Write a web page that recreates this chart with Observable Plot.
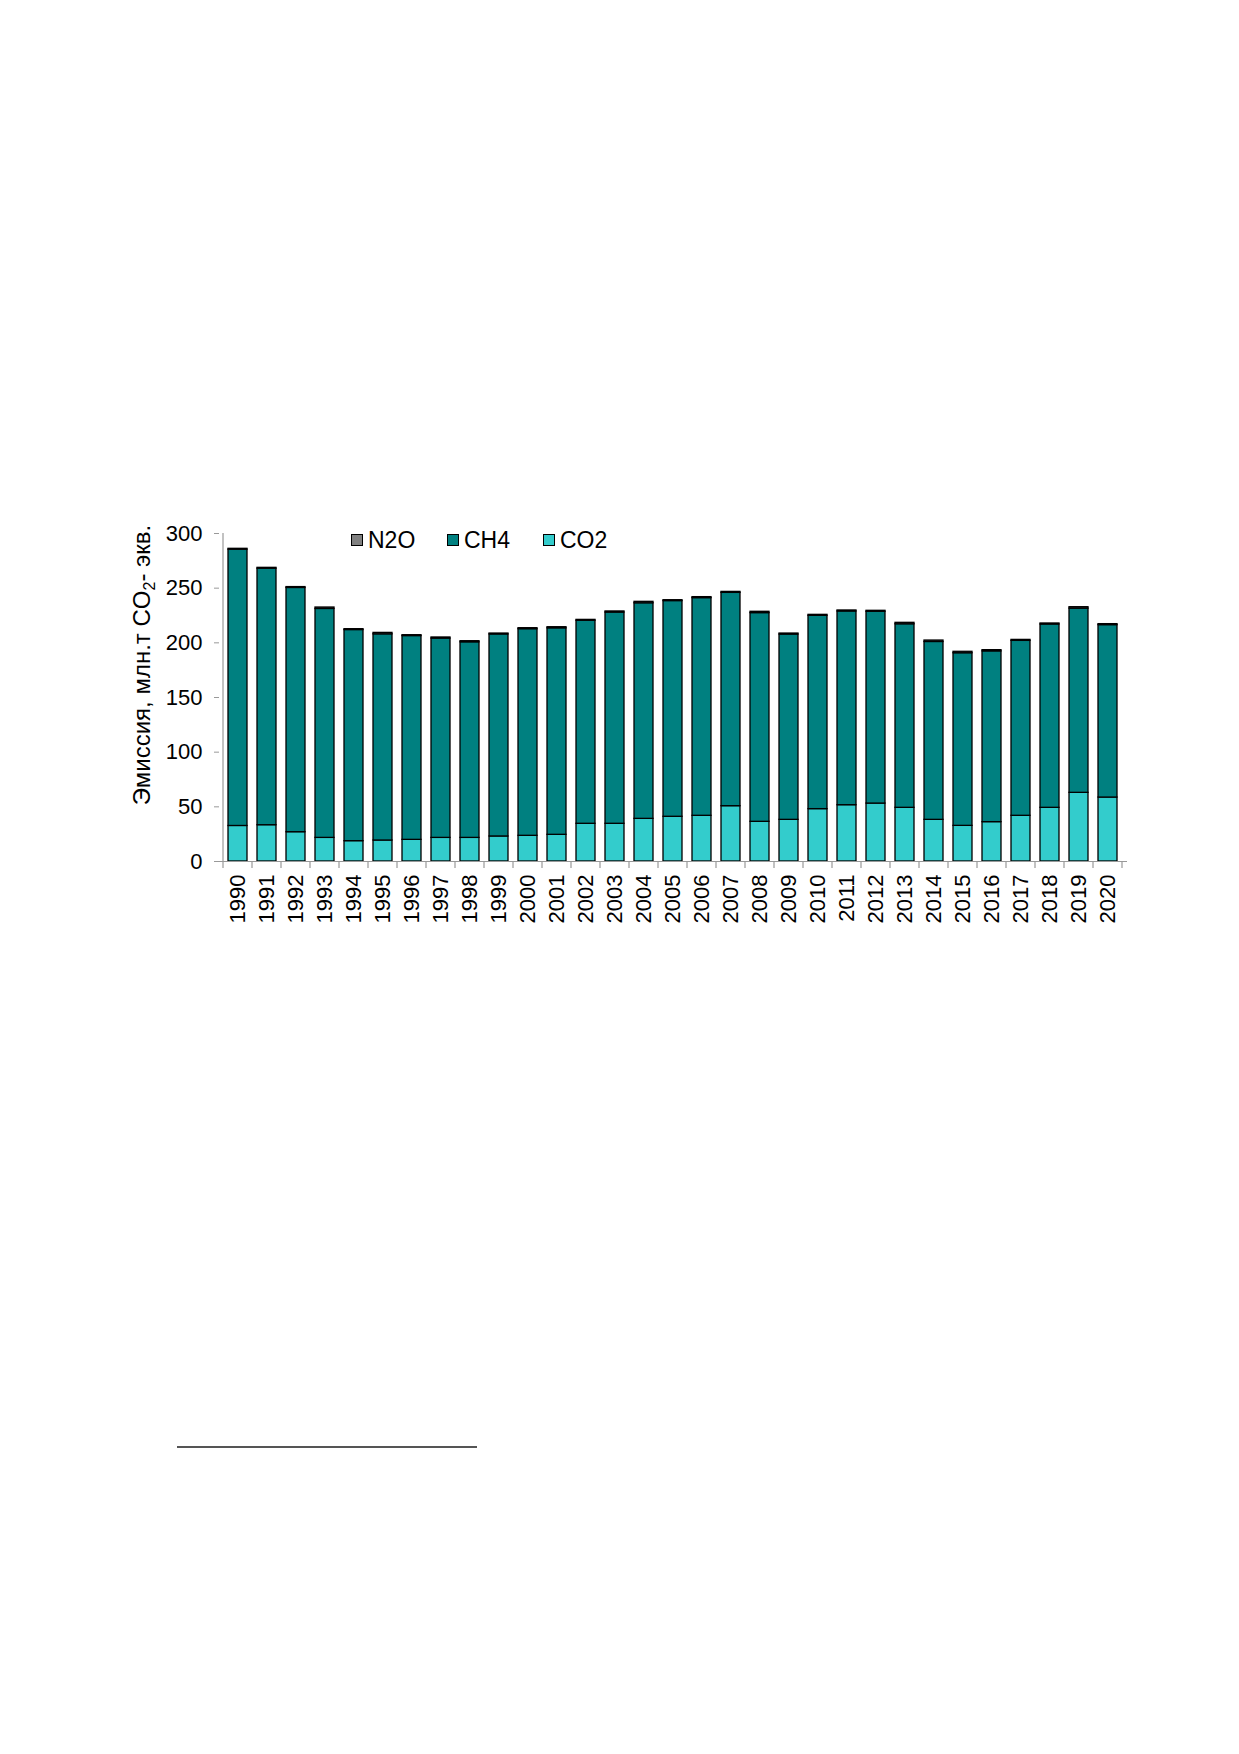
<!DOCTYPE html>
<html>
<head>
<meta charset="utf-8">
<script src="https://cdn.jsdelivr.net/npm/d3@7"></script>
<script src="https://cdn.jsdelivr.net/npm/@observablehq/plot@0.6"></script>
<style>
  html, body { margin: 0; padding: 0; background: #fff; }
  #page { position: relative; width: 1239px; height: 1754px; background: #fff; font-family: "Liberation Sans", Arial, sans-serif; }
  #chart { position: absolute; left: 0; top: 480px; }
  #legend { position: absolute; top: 0; left: 0; font-size: 23px; color: #000; }
  #legend .item { position: absolute; display: flex; align-items: center; line-height: 26px; white-space: nowrap; }
  #legend .sw { width: 12px; height: 12px; border: 1px solid #000; box-sizing: border-box; margin-right: 5px; }
  #footline { position: absolute; left: 177px; top: 1446px; width: 300px; height: 2px; background: #555; }
</style>
</head>
<body>
<div id="page">
  <div id="chart"></div>
  <div id="legend"></div>
  <div id="footline"></div>
</div>
<script>
const years = ["1990","1991","1992","1993","1994","1995","1996","1997","1998","1999",
  "2000","2001","2002","2003","2004","2005","2006","2007","2008","2009",
  "2010","2011","2012","2013","2014","2015","2016","2017","2018","2019","2020"];
const co2 = [32.5, 33.2, 26.8, 21.6, 18.6, 19.2, 19.8, 21.6, 21.6, 22.9,
  23.5, 24.4, 34.5, 34.5, 39.0, 40.9, 41.8, 50.6, 36.3, 38.1,
  47.9, 51.5, 53.0, 49.1, 38.1, 32.6, 36.0, 41.8, 49.1, 62.8, 58.5];
const ch4 = [252.7, 234.6, 223.4, 209.4, 193.1, 188.6, 186.4, 182.3, 178.9, 184.8,
  189.0, 188.9, 185.7, 193.2, 197.2, 197.3, 199.1, 195.1, 190.9, 169.5,
  176.8, 177.2, 175.4, 167.9, 162.7, 157.9, 156.2, 160.0, 167.7, 168.5, 157.7];
const n2o = [0.8, 0.8, 0.8, 1.3, 0.8, 1.3, 0.8, 1.0, 1.0, 0.8,
  0.9, 1.0, 0.8, 1.0, 1.3, 0.8, 0.9, 0.9, 1.2, 0.9,
  0.9, 0.9, 0.9, 1.3, 1.3, 1.3, 1.1, 0.9, 0.9, 1.3, 0.9];
const gases = ["N2O", "CH4", "CO2"];
const gasColors = ["#808080", "#008080", "#33CCCC"];
const stackOrder = ["CO2", "CH4", "N2O"];
const yTicks = [0, 50, 100, 150, 200, 250, 300];
const yLabelMain = "Эмиссия, млн.т CO";
const yLabelSub = "2";
const yLabelTail = "- экв.";

const series = {CO2: co2, CH4: ch4, N2O: n2o};
const data = [];
years.forEach((yr, i) => {
  for (const g of stackOrder) data.push({year: yr, gas: g, value: series[g][i]});
});

const chart = Plot.plot({
  width: 1239,
  height: 480,
  marginLeft: 219,
  marginRight: 112,
  marginTop: 53,
  marginBottom: 99,
  style: {fontFamily: "'Liberation Sans', Arial, sans-serif", fontSize: "22px", background: "transparent", color: "#000", overflow: "visible"},
  x: {domain: years, paddingInner: 0.34, paddingOuter: 0.17, label: null},
  y: {domain: [0, 300], label: null},
  color: {domain: gases, range: gasColors},
  marks: [
    Plot.barY(data, {x: "year", y: "value", fill: "gas", order: stackOrder, stroke: "#000", strokeWidth: 1.3}),
    Plot.ruleY([0], {stroke: "#999", strokeWidth: 1.2}),
    Plot.axisY({ticks: yTicks, tickSize: 5, tickPadding: 12, fontSize: 22, stroke: "#999", tickFormat: d => String(d), label: null}),
    Plot.axisX({tickSize: 0, tickRotate: -90, tickPadding: 13, fontSize: 22, label: null})
  ]
});
document.getElementById("chart").appendChild(chart);

// axis line and band-boundary ticks, from the Plot scales
const xs = chart.scale("x");
const ys = chart.scale("y");
const svg = d3.select(chart);
const y0 = ys.apply(0), y300 = ys.apply(300);
const bw = xs.bandwidth;
const step = xs.apply(years[1]) - xs.apply(years[0]);
const off = (step - bw) / 2;
const g = svg.append("g").attr("stroke", "#999").attr("stroke-width", 1.2);
const left = xs.apply(years[0]) - off;
g.append("line").attr("x1", left).attr("x2", left).attr("y1", y0).attr("y2", y300);
const bounds = years.map(yr => xs.apply(yr) - off).concat([xs.apply(years[years.length - 1]) + bw + off]);
bounds.forEach(b => g.append("line").attr("x1", b).attr("x2", b).attr("y1", y0).attr("y2", y0 + 7));

// y label with subscript
const lbl = svg.append("text")
  .attr("transform", `translate(150, ${665 - 480})rotate(-90)`)
  .attr("text-anchor", "middle")
  .attr("fill", "#000")
  .attr("font-size", 24)
  .attr("font-family", "'Liberation Sans', Arial, sans-serif");
lbl.append("tspan").text(yLabelMain);
lbl.append("tspan").attr("font-size", 16).attr("dy", 5).text(yLabelSub);
lbl.append("tspan").attr("dy", -5).text(yLabelTail);

// legend
const legend = document.getElementById("legend");
const legendX = [351, 447, 543];
gases.forEach((name, i) => {
  const item = document.createElement("div");
  item.className = "item";
  item.style.left = legendX[i] + "px";
  item.style.top = "527px";
  const sw = document.createElement("span");
  sw.className = "sw";
  sw.style.background = gasColors[i];
  const t = document.createElement("span");
  t.textContent = name;
  item.appendChild(sw);
  item.appendChild(t);
  legend.appendChild(item);
});
</script>
</body>
</html>
